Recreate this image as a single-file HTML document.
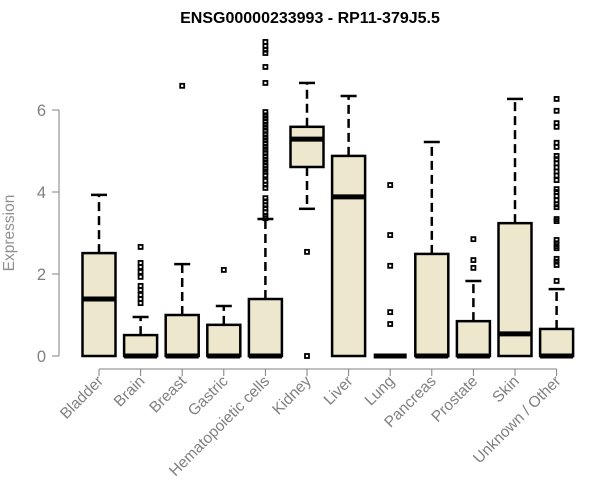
<!DOCTYPE html>
<html><head><meta charset="utf-8">
<style>
html,body{margin:0;padding:0;background:#fff;}
svg{display:block;font-family:"Liberation Sans",Arial,sans-serif;}
</style></head>
<body>
<svg id="chart" width="600" height="500" viewBox="0 0 600 500">
<text x="310" y="23" text-anchor="middle" font-weight="bold" font-size="16" fill="#000">ENSG00000233993 - RP11-379J5.5</text>
<text transform="translate(14,233) rotate(-90)" text-anchor="middle" font-size="15.5" fill="#909090">Expression</text>
<g id="axes"></g>
<g id="boxes"></g>
</svg>
<script>
const categories = ["Bladder","Brain","Breast","Gastric","Hematopoietic cells","Kidney","Liver","Lung","Pancreas","Prostate","Skin","Unknown / Other"];
const q1 = [0,0,0,0,0,4.61,0,0,0,0,0,0];
const medians = [1.39,0,0,0,0,5.29,3.88,0,0,0,0.54,0];
const q3 = [2.51,0.51,1.0,0.76,1.39,5.59,4.88,0,2.49,0.85,3.24,0.66];
const whiskLow = [0,0,0,0,0,3.59,0,0,0,0,0,0];
const whiskHigh = [3.93,0.95,2.24,1.22,3.34,6.66,6.34,0,5.22,1.83,6.27,1.63];
const outliers = [
 [],
 [2.66,2.27,2.17,2.05,1.93,1.71,1.61,1.49,1.39,1.29],
 [6.59],
 [2.1],
 [7.66,7.56,7.47,7.39,7.05,6.66,5.95,5.87,5.80,5.72,5.64,5.57,5.49,5.41,5.33,5.26,5.18,5.10,5.03,4.95,4.87,4.79,4.72,4.64,4.56,4.49,4.41,4.27,4.18,4.10,3.85,3.77,3.68,3.60,3.51,3.41,3.36],
 [2.54,0],
 [],
 [4.17,2.95,2.2,1.07,0.78],
 [],
 [2.85,2.34,2.15],
 [],
 [6.27,5.98,5.68,5.59,5.2,5.1,4.88,4.8,4.7,4.6,4.5,4.4,4.29,4.07,4.0,3.9,3.8,3.7,3.63,3.34,3.29,2.83,2.75,2.68,2.63,2.37,2.3,2.22,1.83]
];
const yTicks = [0,2,4,6];

const NS="http://www.w3.org/2000/svg";
const y = v => 356 - 41*v;
const x = i => 99 + i*41.6;
function mk(tag, attrs, parent){const e=document.createElementNS(NS,tag);for(const k in attrs)e.setAttribute(k,attrs[k]);parent.appendChild(e);return e;}
const axes=document.getElementById('axes'), boxes=document.getElementById('boxes');
const grey="#808080";
let ya=mk('line',{x1:59,x2:59,y1:y(6),y2:y(0),stroke:grey,'stroke-width':1},axes);


yTicks.forEach(t=>{
 const l=mk('line',{x1:52,x2:59,y1:y(t),y2:y(t),stroke:grey},axes);
 
 
 const tx=mk('text',{x:46,y:y(t)+6,'text-anchor':'end','font-size':16.5,fill:grey},axes);
 tx.textContent=t;
 
 
});
let xa=mk('line',{x1:x(0),x2:x(categories.length-1),y1:369,y2:369,stroke:grey},axes);


categories.forEach((c,i)=>{
 const l=mk('line',{x1:x(i),x2:x(i),y1:369,y2:376,stroke:grey},axes);
 
 
 const tx=mk('text',{transform:`translate(${x(i)+5},${382}) rotate(-45)`,'text-anchor':'end','font-size':15.5,fill:grey},axes);
 tx.textContent=c;
 
 
});
categories.forEach((c,i)=>{
 const g=mk('g',{},boxes);
 
 
 const cx=x(i), hw=16.5;
 if(whiskHigh[i]>q3[i]){
  mk('line',{x1:cx,x2:cx,y1:y(q3[i]),y2:y(whiskHigh[i]),stroke:'#000','stroke-width':2.5,'stroke-dasharray':'9,5'},g);
  mk('line',{x1:cx-8,x2:cx+8,y1:y(whiskHigh[i]),y2:y(whiskHigh[i]),stroke:'#000','stroke-width':2.5},g);
 }
 if(whiskLow[i]<q1[i]){
  mk('line',{x1:cx,x2:cx,y1:y(q1[i]),y2:y(whiskLow[i]),stroke:'#000','stroke-width':2.5,'stroke-dasharray':'9,5'},g);
  mk('line',{x1:cx-8,x2:cx+8,y1:y(whiskLow[i]),y2:y(whiskLow[i]),stroke:'#000','stroke-width':2.5},g);
 }
 if(q3[i]>q1[i]){
  mk('rect',{x:cx-hw,y:y(q3[i]),width:hw*2,height:y(q1[i])-y(q3[i]),fill:'#ede7cd',stroke:'#000','stroke-width':2.5},g);
 }
 mk('line',{x1:cx-hw,x2:cx+hw,y1:y(medians[i]),y2:y(medians[i]),stroke:'#000','stroke-width':5},g);
 outliers[i].forEach(v=>{
  const r=mk('rect',{x:cx-2,y:y(v)-2,width:4,height:4,fill:'none',stroke:'#000','stroke-width':1.8},g);
  
  
 });
});
</script>
</body></html>
